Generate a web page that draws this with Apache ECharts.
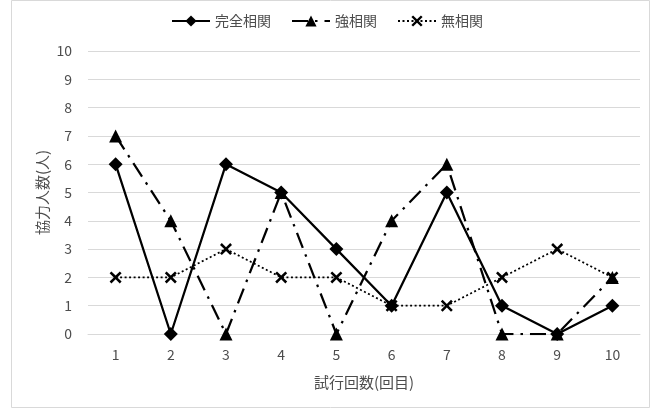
<!DOCTYPE html>
<html><head><meta charset="utf-8">
<script src="https://cdn.jsdelivr.net/npm/echarts@6/dist/echarts.min.js"></script>
<style>html,body{margin:0;padding:0;background:#fff}#c{width:654px;height:413px}</style>
</head><body><div id="c"></div>
<script>
const categories = ['1','2','3','4','5','6','7','8','9','10'];
const seriesNames = ['完全相関','強相関','無相関'];
const perfect = [6,0,6,5,3,1,5,1,0,1];
const strong = [7,4,0,5,0,4,6,0,0,2];
const none = [2,2,3,2,2,1,1,2,3,2];
const xTitle = '試行回数(回目)';
const yTitle = '協力人数(人)';

const font = '"Noto Sans CJK JP", "Noto Sans", sans-serif';
const xPath = 'path://M0,1.5 L1.5,0 L5,3.5 L8.5,0 L10,1.5 L6.5,5 L10,8.5 L8.5,10 L5,6.5 L1.5,10 L0,8.5 L3.5,5 Z';
const chart = echarts.init(document.getElementById('c'));
chart.setOption({
  animation:false,
  textStyle:{fontFamily:font},
  graphic:[{type:'rect',shape:{x:11.5,y:0.5,width:638,height:407},style:{fill:'none',stroke:'#d9d9d9',lineWidth:1},silent:true}],
  legend:{top:9,left:'center',itemWidth:38,itemHeight:14,itemGap:20,
    textStyle:{fontFamily:font,fontSize:14,color:'#4d4d4d'},data:seriesNames},
  grid:{left:88,right:14,top:51,bottom:79},
  xAxis:{type:'category',data:categories,boundaryGap:true,
    axisLine:{show:true,lineStyle:{color:'#d9d9d9'}},axisTick:{show:false},
    axisLabel:{color:'#4d4d4d',fontSize:14,margin:14,fontFamily:font},
    name:xTitle,nameLocation:'middle',nameGap:41,
    nameTextStyle:{color:'#4d4d4d',fontSize:15,fontFamily:font}},
  yAxis:{type:'value',min:0,max:10,interval:1,
    axisLine:{show:false},axisTick:{show:false},
    splitLine:{lineStyle:{color:'#d9d9d9'}},
    axisLabel:{color:'#4d4d4d',fontSize:14,margin:16,fontFamily:font},
    name:yTitle,nameLocation:'middle',nameGap:38,nameMoveOverlap:false,
    nameTextStyle:{color:'#4d4d4d',fontSize:15,fontFamily:font}},
  series:[
    {name:seriesNames[0],type:'line',data:perfect,symbol:'diamond',symbolSize:14,
      lineStyle:{color:'#000',width:2.25,type:'solid'},itemStyle:{color:'#000'}},
    {name:seriesNames[1],type:'line',data:strong,symbol:'triangle',symbolSize:13,
      lineStyle:{color:'#000',width:2.25,type:[16,7,2.5,7]},itemStyle:{color:'#000'}},
    {name:seriesNames[2],type:'line',data:none,symbol:xPath,symbolSize:12,
      lineStyle:{color:'#000',width:1.75,type:[2,2.5]},itemStyle:{color:'#000'}}
  ]
});
</script></body></html>
